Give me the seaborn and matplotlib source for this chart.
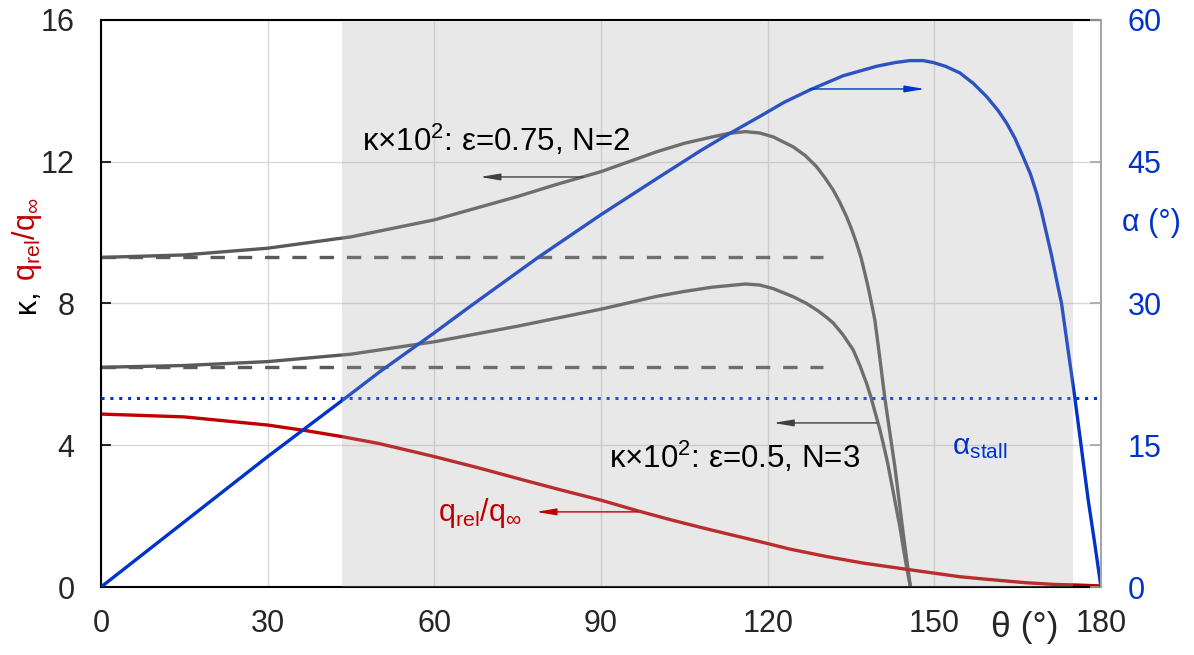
import numpy as np
import pandas as pd
import matplotlib
matplotlib.use("Agg")
import matplotlib.pyplot as plt
import seaborn as sns

# ---- data -------------------------------------------------------------
theta_k1 = [0, 15, 30, 45, 60, 75, 82, 90, 95, 100, 105, 110, 113, 116,
            118.6, 121, 124.6, 126.8, 128.8, 130.3, 131.8, 133, 134.2, 135.1,
            136, 136.8, 137.5, 138.1, 138.7, 139.3, 140.2, 141.1, 142, 142.9,
            143.7, 144.4, 145.1, 145.7]
kappa_075_n2 = [9.30, 9.37, 9.56, 9.88, 10.36, 11.02, 11.36, 11.72, 12.00,
                12.28, 12.52, 12.70, 12.80, 12.85, 12.81, 12.70, 12.42, 12.17,
                11.86, 11.55, 11.20, 10.85, 10.45, 10.10, 9.70, 9.30, 8.85,
                8.45, 8.00, 7.53, 6.45, 5.32, 4.35, 3.39, 2.39, 1.51, 0.70, 0.0]

theta_k2 = [0, 15, 30, 45, 60, 75, 90, 100, 105, 110, 116, 118.6, 121, 124.6,
            127, 129, 130.6, 131.8, 133.5, 135.4, 136.6, 137.8, 138.6, 139.3,
            140.1, 140.8, 141.6, 142.3, 143, 143.8, 144.4, 145, 145.7]
kappa_05_n3 = [6.20, 6.25, 6.36, 6.57, 6.92, 7.36, 7.84, 8.20, 8.34, 8.46,
               8.55, 8.52, 8.42, 8.19, 8.00, 7.80, 7.61, 7.45, 7.13, 6.69,
               6.25, 5.75, 5.35, 4.95, 4.50, 4.05, 3.50, 2.93, 2.35, 1.70,
               1.12, 0.57, 0.0]

kappa_ref = [9.3, 6.2]          # straight-blade reference levels
kappa_ref_span = [0, 130]

theta_a = [0, 15, 30, 44, 50, 60, 66, 70, 78.5, 84, 90, 95, 100, 104, 108,
           112, 118.6, 123, 127.6, 133.6, 139.6, 143, 145.6, 148, 149.8, 152,
           154.6, 157, 159.4, 161.5, 163, 164.5, 166, 167.3, 168.4, 169.3,
           170.2, 171.1, 172, 172.9, 174, 175.3, 176.5, 177.7, 178.9, 180]
alpha_deg = [0, 6.9, 13.8, 20.0, 22.7, 26.9, 29.5, 31.2, 34.8, 37.0, 39.4,
             41.3, 43.2, 44.7, 46.2, 47.6, 49.8, 51.3, 52.6, 54.1, 55.1, 55.5,
             55.7, 55.7, 55.5, 55.1, 54.4, 53.3, 51.9, 50.4, 49.1, 47.5, 45.5,
             43.7, 41.7, 39.7, 37.4, 35.1, 32.5, 30.0, 25.4, 20.0, 14.6, 9.2,
             4.5, 0.0]

alpha_stall = 20.0

theta_q = [0, 15, 30, 37, 43.5, 50, 60, 68, 76, 83, 90, 96.6, 102, 108, 113,
           118.6, 124, 130.6, 137, 145, 154.6, 160, 166.6, 172, 175, 180]
q_ratio = [4.88, 4.80, 4.57, 4.41, 4.24, 4.05, 3.68, 3.36, 3.02, 2.73, 2.45,
           2.15, 1.92, 1.68, 1.49, 1.28, 1.07, 0.86, 0.68, 0.50, 0.29, 0.21,
           0.12, 0.07, 0.06, 0.03]

shade_span = [43.4, 175.0]

x_ticks = [0, 30, 60, 90, 120, 150, 180]
left_ticks = [0, 4, 8, 12, 16]
right_ticks = [0, 15, 30, 45, 60]

# ---- style ------------------------------------------------------------
sns.set_theme(style="white")
plt.rcParams["font.family"] = ["Liberation Sans", "DejaVu Sans"]
plt.rcParams["mathtext.fontset"] = "custom"
plt.rcParams["mathtext.rm"] = "Liberation Sans"
plt.rcParams["mathtext.it"] = "Liberation Sans:italic"

BLUE = "#0033cc"
RED = "#c00000"
GREY = "#595959"
ARROW_GREY = "#404040"
LW = 2.4

fig = plt.figure(figsize=(11.94, 6.55), dpi=100)
ax = fig.add_axes([0.0846, 0.1038, 0.8375, 0.8657])
ax2 = ax.twinx()

# kappa and dynamic-pressure curves on the left axis
sns.lineplot(x=theta_k1, y=kappa_075_n2, ax=ax, color=GREY, lw=LW,
             sort=False, zorder=2)
sns.lineplot(x=theta_k2, y=kappa_05_n3, ax=ax, color=GREY, lw=LW,
             sort=False, zorder=2)
for k in kappa_ref:
    sns.lineplot(x=kappa_ref_span, y=[k, k], ax=ax, color=GREY, lw=LW,
                 linestyle=(0, (4.3, 3.88)), zorder=2)
sns.lineplot(x=theta_q, y=q_ratio, ax=ax, color=RED, lw=LW, sort=False,
             zorder=2)

# angle of attack on the right axis
sns.lineplot(x=theta_a, y=alpha_deg, ax=ax2, color=BLUE, lw=LW, sort=False,
             zorder=2)
sns.lineplot(x=[0, 180], y=[alpha_stall, alpha_stall], ax=ax2, color=BLUE,
             lw=2.2, linestyle=(0, (1, 1.9)), zorder=2)

# shaded θ band over the curves
ax2.axvspan(shade_span[0], shade_span[1], ymin=0, ymax=0.996,
            color="#aaaaaa", alpha=0.27, lw=0, zorder=3)

# ---- axes -------------------------------------------------------------
ax.set_xlim(0, 180)
ax.set_ylim(0, 16)
ax2.set_ylim(0, 60)
ax.set_xticks(x_ticks)
ax.set_yticks(left_ticks)
ax2.set_yticks(right_ticks)
ax.set_xlabel("")
ax.set_ylabel("")
ax2.set_ylabel("")

ax.grid(True, color="#d9d9d9", lw=1.0)
ax.set_axisbelow(True)
ax2.grid(False)

for s in ["left", "bottom", "top"]:
    ax.spines[s].set_color("black")
    ax.spines[s].set_linewidth(1.5)
ax.spines["right"].set_visible(False)
for s in ["left", "bottom", "top"]:
    ax2.spines[s].set_visible(False)
ax2.spines["right"].set_color("#a6a6a6")
ax2.spines["right"].set_linewidth(1.5)

ax.tick_params(axis="y", direction="in", length=7, width=1.2, color="black",
               labelsize=22, pad=19, left=True, right=False)
ax.tick_params(axis="x", length=0, labelsize=22, pad=16, bottom=True)
ax2.tick_params(axis="y", direction="in", length=8, width=1.2,
                color="#a6a6a6", labelcolor=BLUE, labelsize=22, pad=19,
                right=True, left=False)

# axis titles
ax.text(166.3, -1.15, "θ (°)", fontsize=25.5, ha="center", va="center",
        clip_on=False)
ax.text(189, 10.27, "α (°)", fontsize=22, color=BLUE, ha="center",
        va="center", clip_on=False)
fig.text(0.0293, 0.5221, "κ,", fontsize=22, color="black", rotation=90,
         rotation_mode="anchor", ha="left", va="baseline")
fig.text(0.0293, 0.5710, r"q$_\mathregular{rel}$/q$_\mathregular{∞}$",
         fontsize=22, color=RED, rotation=90, rotation_mode="anchor",
         ha="left", va="baseline")

# ---- annotations ------------------------------------------------------
head = dict(arrowstyle="-|>,head_length=1.2,head_width=0.2",
            mutation_scale=10, lw=1.0, shrinkA=0, shrinkB=0)

ax2.text(47, 12.6, r"κ×10$^\mathregular{2}$: ε=0.75, N=2",
         transform=ax.transData, fontsize=22.5, color="black", ha="left",
         va="center", zorder=5)
ax2.annotate("", xy=(68.2, 11.57), xytext=(86.8, 11.57),
             xycoords=ax.transData, textcoords=ax.transData,
             arrowprops=dict(color=ARROW_GREY, **head), zorder=5)

ax2.text(91.4, 3.67, r"κ×10$^\mathregular{2}$: ε=0.5, N=3",
         transform=ax.transData, fontsize=22.5, color="black", ha="left",
         va="center", zorder=5)
ax2.annotate("", xy=(121.0, 4.63), xytext=(139.7, 4.63),
             xycoords=ax.transData, textcoords=ax.transData,
             arrowprops=dict(color=ARROW_GREY, **head), zorder=5)

ax2.text(60.7, 2.1, r"q$_\mathregular{rel}$/q$_\mathregular{∞}$",
         transform=ax.transData, fontsize=22, color=RED, ha="left",
         va="center", zorder=5)
ax2.annotate("", xy=(78.3, 2.12), xytext=(96.6, 2.12),
             xycoords=ax.transData, textcoords=ax.transData,
             arrowprops=dict(color=RED, **head), zorder=5)

ax2.annotate("", xy=(148.3, 52.7), xytext=(127.6, 52.7),
             arrowprops=dict(color=BLUE, **head), zorder=5)
ax2.text(153.2, 14.8, r"α$_\mathregular{stall}$", fontsize=21.5, color=BLUE,
         ha="left", va="center", zorder=5)

fig.savefig("out.png", dpi=100)
